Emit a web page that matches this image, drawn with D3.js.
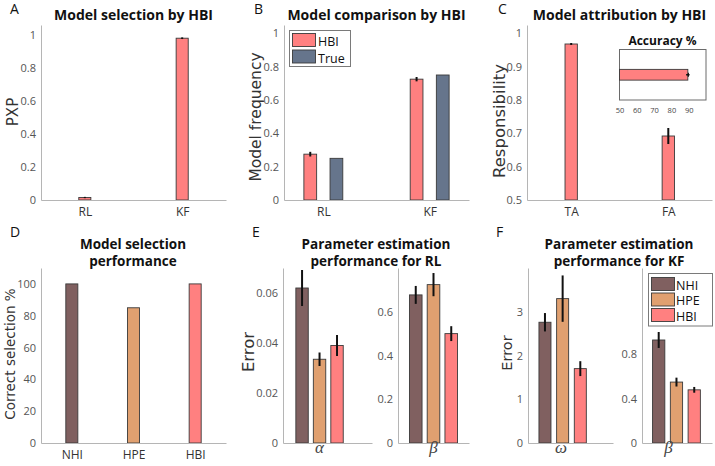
<!DOCTYPE html>
<html>
<head>
<meta charset="utf-8">
<script src="https://cdn.jsdelivr.net/npm/d3@7"></script>
<style>
  body { margin: 0; background: #fff; }
  text { font-family: "Open Sans", "DejaVu Sans", sans-serif; }
</style>
</head>
<body>
<div id="chart"></div>
<script>
// ---- data ----
var topModels = ['RL', 'KF'];
var pxp = [0.015, 0.98];
var pxpErr = [0.004, 0.005];

var freqHBI = [0.275, 0.725];
var freqHBIErr = [0.014, 0.013];
var freqTrue = [0.25, 0.75];

var attribCats = ['TA', 'FA'];
var responsibility = [0.968, 0.692];
var responsibilityErr = [0.003, 0.024];
var accuracy = [89.5];
var accuracyErr = [1.0];
var accuracyTicks = [50, 60, 70, 80, 90];

var methods = ['NHI', 'HPE', 'HBI'];
var correctSel = [100, 85, 100];

var rlAlpha = [0.062, 0.0335, 0.039];
var rlAlphaErr = [0.0072, 0.0027, 0.0042];
var rlBeta = [0.677, 0.724, 0.50];
var rlBetaErr = [0.041, 0.053, 0.034];

var kfOmega = [2.76, 3.3, 1.7];
var kfOmegaErr = [0.21, 0.53, 0.17];
var kfBeta = [0.93, 0.55, 0.48];
var kfBetaErr = [0.072, 0.04, 0.026];

var colHBI = '#ff8080',
    colTrue = '#66758c',
    colNHI = '#806060',
    colHPE = '#e0a070';
var methodColors = [colNHI, colHPE, colHBI];

var width = 715,
    height = 466;

var svg = d3.select('#chart')
    .append('svg')
    .attr('width', width)
    .attr('height', height);

var fmt = d3.format('~g');

// one set of axes: pixel rect + domains
function makeAxes(r, xDom, yDom) {
    return {
        x: d3.scaleLinear().domain(xDom).range([r[0], r[1]]),
        y: d3.scaleLinear().domain(yDom).range([r[3], r[2]])
    };
}

function drawY(ax, ticks) {
    var g = svg.append('g')
        .attr('transform', 'translate(' + ax.x.range()[0] + ',0)')
        .call(d3.axisLeft(ax.y).tickValues(ticks).tickFormat(fmt).tickSize(0).tickSizeOuter(0).tickPadding(5));
    g.select('.domain').attr('stroke', '#b5b5b5');
    g.selectAll('text').attr('fill', '#555').style('font-size', '11px');
}

function drawX(ax, pos, labels) {
    var g = svg.append('g')
        .attr('transform', 'translate(0,' + ax.y.range()[0] + ')')
        .call(d3.axisBottom(ax.x).tickValues(pos).tickFormat(function (d, i) { return labels[i]; })
            .tickSize(0).tickSizeOuter(0).tickPadding(7.5));
    g.select('.domain').attr('stroke', '#b5b5b5');
    g.selectAll('text').attr('fill', '#333').style('font-size', '12px');
}

function drawBars(ax, pos, vals, bw, color, base) {
    var half = (ax.x(bw) - ax.x(0)) / 2;
    svg.append('g').selectAll('rect')
        .data(vals)
        .enter()
        .append('rect')
        .attr('x', function (d, i) { return ax.x(pos[i]) - half; })
        .attr('width', half * 2)
        .attr('y', function (d) { return ax.y(d); })
        .attr('height', function (d) { return ax.y(base) - ax.y(d); })
        .attr('fill', function (d, i) { return Array.isArray(color) ? color[i] : color; })
        .attr('stroke', '#3a3a3a')
        .attr('stroke-width', 0.9);
}

function drawErr(ax, pos, vals, errs) {
    svg.append('g').selectAll('line')
        .data(vals)
        .enter()
        .append('line')
        .attr('x1', function (d, i) { return ax.x(pos[i]); })
        .attr('x2', function (d, i) { return ax.x(pos[i]); })
        .attr('y1', function (d, i) { return ax.y(d - errs[i]); })
        .attr('y2', function (d, i) { return ax.y(d + errs[i]); })
        .attr('stroke', '#111')
        .attr('stroke-width', 2);
}

function title(x, lines, y0, size) {
    lines.forEach(function (t, i) {
        svg.append('text')
            .attr('x', x).attr('y', y0 + i * 17)
            .attr('text-anchor', 'middle')
            .style('font-size', size + 'px')
            .style('font-weight', 'bold')
            .attr('fill', '#111')
            .text(t);
    });
}

function yLabel(x, y, t, size) {
    svg.append('text')
        .attr('transform', 'translate(' + x + ',' + y + ') rotate(-90)')
        .attr('text-anchor', 'middle')
        .attr('dy', '0.35em')
        .style('font-family', '"DejaVu Sans", sans-serif')
        .style('font-size', size + 'px')
        .attr('fill', '#333')
        .text(t);
}

function letter(x, y, t) {
    svg.append('text').attr('x', x).attr('y', y)
        .style('font-size', '14px').attr('fill', '#111').text(t);
}

function greek(x, y, t) {
    svg.append('text')
        .attr('x', x).attr('y', y)
        .attr('text-anchor', 'middle')
        .style('font-family', '"Liberation Serif", "DejaVu Serif", serif')
        .style('font-style', 'italic')
        .style('font-size', '17px')
        .attr('fill', '#444')
        .text(t);
}

function legend(box, items, sw, textX, baseY, step) {
    svg.append('rect')
        .attr('x', box[0]).attr('y', box[1]).attr('width', box[2]).attr('height', box[3])
        .attr('fill', '#fff').attr('stroke', '#7a7a7a');
    items.forEach(function (it, i) {
        svg.append('rect')
            .attr('x', sw[0]).attr('y', sw[1] + i * step).attr('width', sw[2]).attr('height', sw[3])
            .attr('fill', it[1]).attr('stroke', '#3a3a3a').attr('stroke-width', 0.9);
        svg.append('text')
            .attr('x', textX).attr('y', baseY + i * step)
            .style('font-size', '12.5px').attr('fill', '#111')
            .text(it[0]);
    });
}

// ---------- A ----------
var axA = makeAxes([41, 226, 25, 200], [0.55, 2.45], [0, 1.06]);
drawBars(axA, [1, 2], pxp, 0.124, colHBI, 0);
drawErr(axA, [1, 2], pxp, pxpErr);
drawY(axA, [0, 0.2, 0.4, 0.6, 0.8, 1]);
drawX(axA, [1, 2], topModels);
title(133.5, ['Model selection by HBI'], 20, 14);
yLabel(12.5, 112, 'PXP', 15);
letter(10, 14, 'A');

// ---------- B ----------
var axB = makeAxes([284, 469, 25, 200], [0.63, 2.37], [0, 1.05]);
var posHBI = [1 - 0.123, 2 - 0.123],
    posTrue = [1 + 0.123, 2 + 0.123];
drawBars(axB, posHBI, freqHBI, 0.12, colHBI, 0);
drawBars(axB, posTrue, freqTrue, 0.12, colTrue, 0);
drawErr(axB, posHBI, freqHBI, freqHBIErr);
drawY(axB, [0, 0.2, 0.4, 0.6, 0.8, 1]);
drawX(axB, [1, 2], topModels);
title(376.5, ['Model comparison by HBI'], 20, 14);
yLabel(256, 117, 'Model frequency', 15.5);
letter(254, 14, 'B');
legend([289.5, 30.5, 61, 36], [['HBI', colHBI], ['True', colTrue]], [292.5, 33.5, 23, 13], 318, 46, 16.5);

// ---------- C ----------
var axC = makeAxes([527, 712, 25, 200], [0.545, 2.45], [0.5, 1.025]);
drawBars(axC, [1, 2], responsibility, 0.127, colHBI, 0.5);
drawErr(axC, [1, 2], responsibility, responsibilityErr);
drawY(axC, [0.5, 0.6, 0.7, 0.8, 0.9, 1]);
drawX(axC, [1, 2], attribCats);
title(619.5, ['Model attribution by HBI'], 20, 14);
yLabel(499, 121, 'Responsibility', 16.5);
letter(498, 14, 'C');

// inset: accuracy %
var inX = d3.scaleLinear().domain([50, 100]).range([619.5, 706]);
var inY = d3.scaleBand().domain([0]).range([49.5, 100]).paddingInner(0).paddingOuter(1.85);
svg.append('rect')
    .attr('x', 619.5).attr('y', 49.5).attr('width', 86.5).attr('height', 50.5)
    .attr('fill', '#fff').attr('stroke', '#6a6a6a');
svg.append('g').selectAll('rect').data(accuracy).enter().append('rect')
    .attr('x', inX(50)).attr('y', inY(0))
    .attr('width', function (d) { return inX(d) - inX(50); })
    .attr('height', inY.bandwidth())
    .attr('fill', colHBI).attr('stroke', '#3a3a3a').attr('stroke-width', 0.9);
svg.append('g').selectAll('line').data(accuracy).enter().append('line')
    .attr('x1', function (d, i) { return inX(d - accuracyErr[i]); })
    .attr('x2', function (d, i) { return inX(d + accuracyErr[i]); })
    .attr('y1', inY(0) + inY.bandwidth() / 2).attr('y2', inY(0) + inY.bandwidth() / 2)
    .attr('stroke', '#111').attr('stroke-width', 1.5);
svg.append('g').selectAll('line.tk').data(accuracy).enter().append('line')
    .attr('x1', function (d) { return inX(d) + 0.5; })
    .attr('x2', function (d) { return inX(d) + 0.5; })
    .attr('y1', inY(0) + inY.bandwidth() / 2 - 2).attr('y2', inY(0) + inY.bandwidth() / 2 + 2)
    .attr('stroke', '#111').attr('stroke-width', 1.2);
var inAx = svg.append('g').attr('transform', 'translate(0,100)')
    .call(d3.axisBottom(inX).tickValues(accuracyTicks).tickSize(0).tickPadding(8));
inAx.select('.domain').remove();
inAx.selectAll('text').attr('fill', '#444').style('font-size', '7.5px');
svg.append('text').attr('x', 662.5).attr('y', 45).attr('text-anchor', 'middle')
    .style('font-size', '12px').style('font-weight', 'bold').attr('fill', '#111')
    .text('Accuracy %');

// ---------- D ----------
var axD = makeAxes([41, 226, 268, 443], [0.5, 3.5], [0, 110]);
drawBars(axD, [1, 2, 3], correctSel, 0.195, methodColors, 0);
drawY(axD, [0, 20, 40, 60, 80, 100]);
drawX(axD, [1, 2, 3], methods);
title(133, ['Model selection', 'performance'], 248.5, 13.5);
yLabel(10, 354, 'Correct selection %', 13.5);
letter(10, 237, 'D');

// ---------- E ----------
var axE1 = makeAxes([283, 372, 268, 443], [-0.09, 5], [0, 0.07]);
drawBars(axE1, [1, 2, 3], rlAlpha, 0.71, methodColors, 0);
drawErr(axE1, [1, 2, 3], rlAlpha, rlAlphaErr);
drawY(axE1, [0, 0.02, 0.04, 0.06]);
drawX(axE1, [], []);
greek(319.5, 453, 'α');

var axE2 = makeAxes([398, 469, 268, 443], [0, 4], [0, 0.8]);
drawBars(axE2, [1, 2, 3], rlBeta, 0.71, methodColors, 0);
drawErr(axE2, [1, 2, 3], rlBeta, rlBetaErr);
drawY(axE2, [0, 0.2, 0.4, 0.6]);
drawX(axE2, [], []);
greek(433.5, 453, 'β');

title(376, ['Parameter estimation', 'performance for RL'], 248.5, 13.5);
yLabel(248, 352, 'Error', 16.5);
letter(252, 237, 'E');

// ---------- F ----------
var axF1 = makeAxes([528, 613, 268, 443], [0.04, 4.85], [0, 4]);
drawBars(axF1, [1, 2, 3], kfOmega, 0.68, methodColors, 0);
drawErr(axF1, [1, 2, 3], kfOmega, kfOmegaErr);
drawY(axF1, [0, 1, 2, 3]);
drawX(axF1, [], []);
greek(561, 453, 'ω');

var axF2 = makeAxes([642, 712, 268, 443], [0.06, 4], [0, 1.58]);
drawBars(axF2, [1, 2, 3], kfBeta, 0.69, methodColors, 0);
drawErr(axF2, [1, 2, 3], kfBeta, kfBetaErr);
drawY(axF2, [0, 0.4, 0.8]);
drawX(axF2, [], []);
greek(668.5, 453, 'β');

title(619, ['Parameter estimation', 'performance for KF'], 248.5, 13.5);
yLabel(507, 353, 'Error', 14.5);
letter(496, 237, 'F');
legend([648.5, 273.5, 64, 52.5], [['NHI', colNHI], ['HPE', colHPE], ['HBI', colHBI]],
    [651.5, 277.5, 23, 13], 676, 289.5, 15.5);
</script>
</body>
</html>
